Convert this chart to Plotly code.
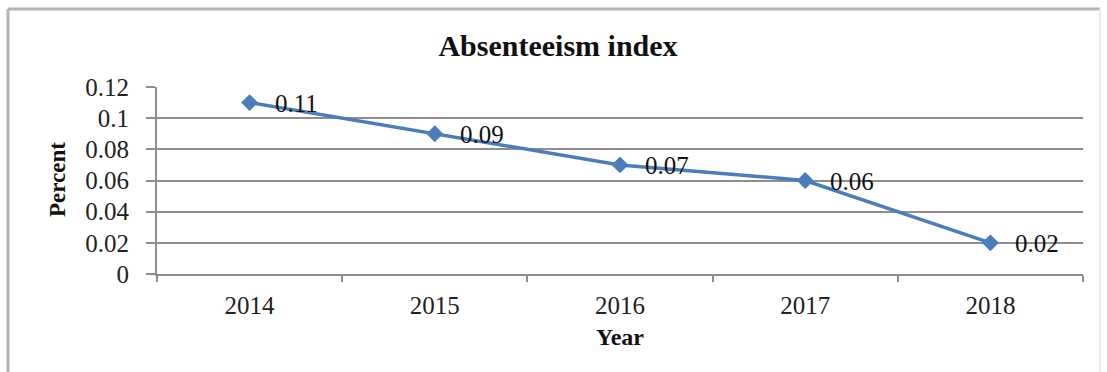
import plotly.graph_objects as go

# Absenteeism index by year
years = ["2014", "2015", "2016", "2017", "2018"]
index_values = [0.11, 0.09, 0.07, 0.06, 0.02]
y_ticks = [0, 0.02, 0.04, 0.06, 0.08, 0.1, 0.12]
y_tick_text = ["0", "0.02", "0.04", "0.06", "0.08", "0.1", "0.12"]

W, H = 1107, 372
L, R, T, B = 157, 24, 87, 98
pw, ph = W - L - R, H - T - B

def px_x(x):
    return (x - L) / pw

def px_y(y):
    return (H - B - y) / ph

FONT = "Liberation Serif, Times New Roman, serif"
BLUE = "#4a7ebb"
GRID = "#8e8e8e"

fig = go.Figure()
fig.add_trace(go.Scatter(
    x=years, y=index_values,
    mode="lines+markers",
    line=dict(color=BLUE, width=3.5),
    marker=dict(symbol="diamond", size=13, color=BLUE),
    hoverinfo="skip",
    showlegend=False,
))

# value labels to the right of each point (category index positions)
for i, v in enumerate(index_values):
    fig.add_annotation(
        x=i, y=v, text=f"{v:g}", showarrow=False,
        xanchor="left", yanchor="middle", xshift=23, yshift=-1,
        font=dict(family=FONT, size=25, color="#111111"),
    )

# axis titles
fig.add_annotation(
    x=px_x(57), y=px_y(180), xref="paper", yref="paper",
    text="<b>Percent</b>", textangle=-90, showarrow=False,
    xanchor="center", yanchor="middle",
    font=dict(family=FONT, size=23, color="#111111"),
)
fig.add_annotation(
    x=px_x(620), y=px_y(337), xref="paper", yref="paper",
    text="<b>Year</b>", showarrow=False,
    xanchor="center", yanchor="middle",
    font=dict(family=FONT, size=24, color="#111111"),
)

# outer chart frame
frame = dict(xref="paper", yref="paper", type="line", layer="below")
fig.add_shape(**frame, x0=px_x(8), y0=px_y(9), x1=px_x(1100), y1=px_y(9),
              line=dict(color="#b4b4b4", width=3))
fig.add_shape(**frame, x0=px_x(8), y0=px_y(9), x1=px_x(8), y1=px_y(380),
              line=dict(color="#b4b4b4", width=3))
fig.add_shape(**frame, x0=px_x(1100), y0=px_y(9), x1=px_x(1100), y1=px_y(380),
              line=dict(color="#ececec", width=2))

fig.update_layout(
    width=W, height=H,
    margin=dict(l=L, r=R, t=T, b=B),
    paper_bgcolor="white", plot_bgcolor="white",
    title=dict(
        text="<b>Absenteeism index</b>",
        x=558 / W, xref="container", xanchor="center",
        y=1 - 45 / H, yref="container", yanchor="middle",
        font=dict(family=FONT, size=30, color="#111111"),
    ),
    xaxis=dict(
        type="category", categoryorder="array", categoryarray=years,
        range=[-0.5, len(years) - 0.5],
        tickson="boundaries",
        ticks="outside", ticklen=6, tickwidth=1.5, tickcolor=GRID,
        showline=True, linecolor=GRID, linewidth=2,
        showgrid=False, zeroline=False,
        ticklabelstandoff=8,
        tickfont=dict(family=FONT, size=25, color="#222222"),
    ),
    yaxis=dict(
        range=[0, 0.12], tickvals=y_ticks, ticktext=y_tick_text,
        ticks="outside", ticklen=9, tickwidth=1.5, tickcolor=GRID,
        showline=True, linecolor=GRID, linewidth=2,
        showgrid=True, gridcolor=GRID, gridwidth=1.5,
        zeroline=False,
        ticklabelstandoff=12,
        tickfont=dict(family=FONT, size=25, color="#222222"),
    ),
)

fig.write_html("out.html")
